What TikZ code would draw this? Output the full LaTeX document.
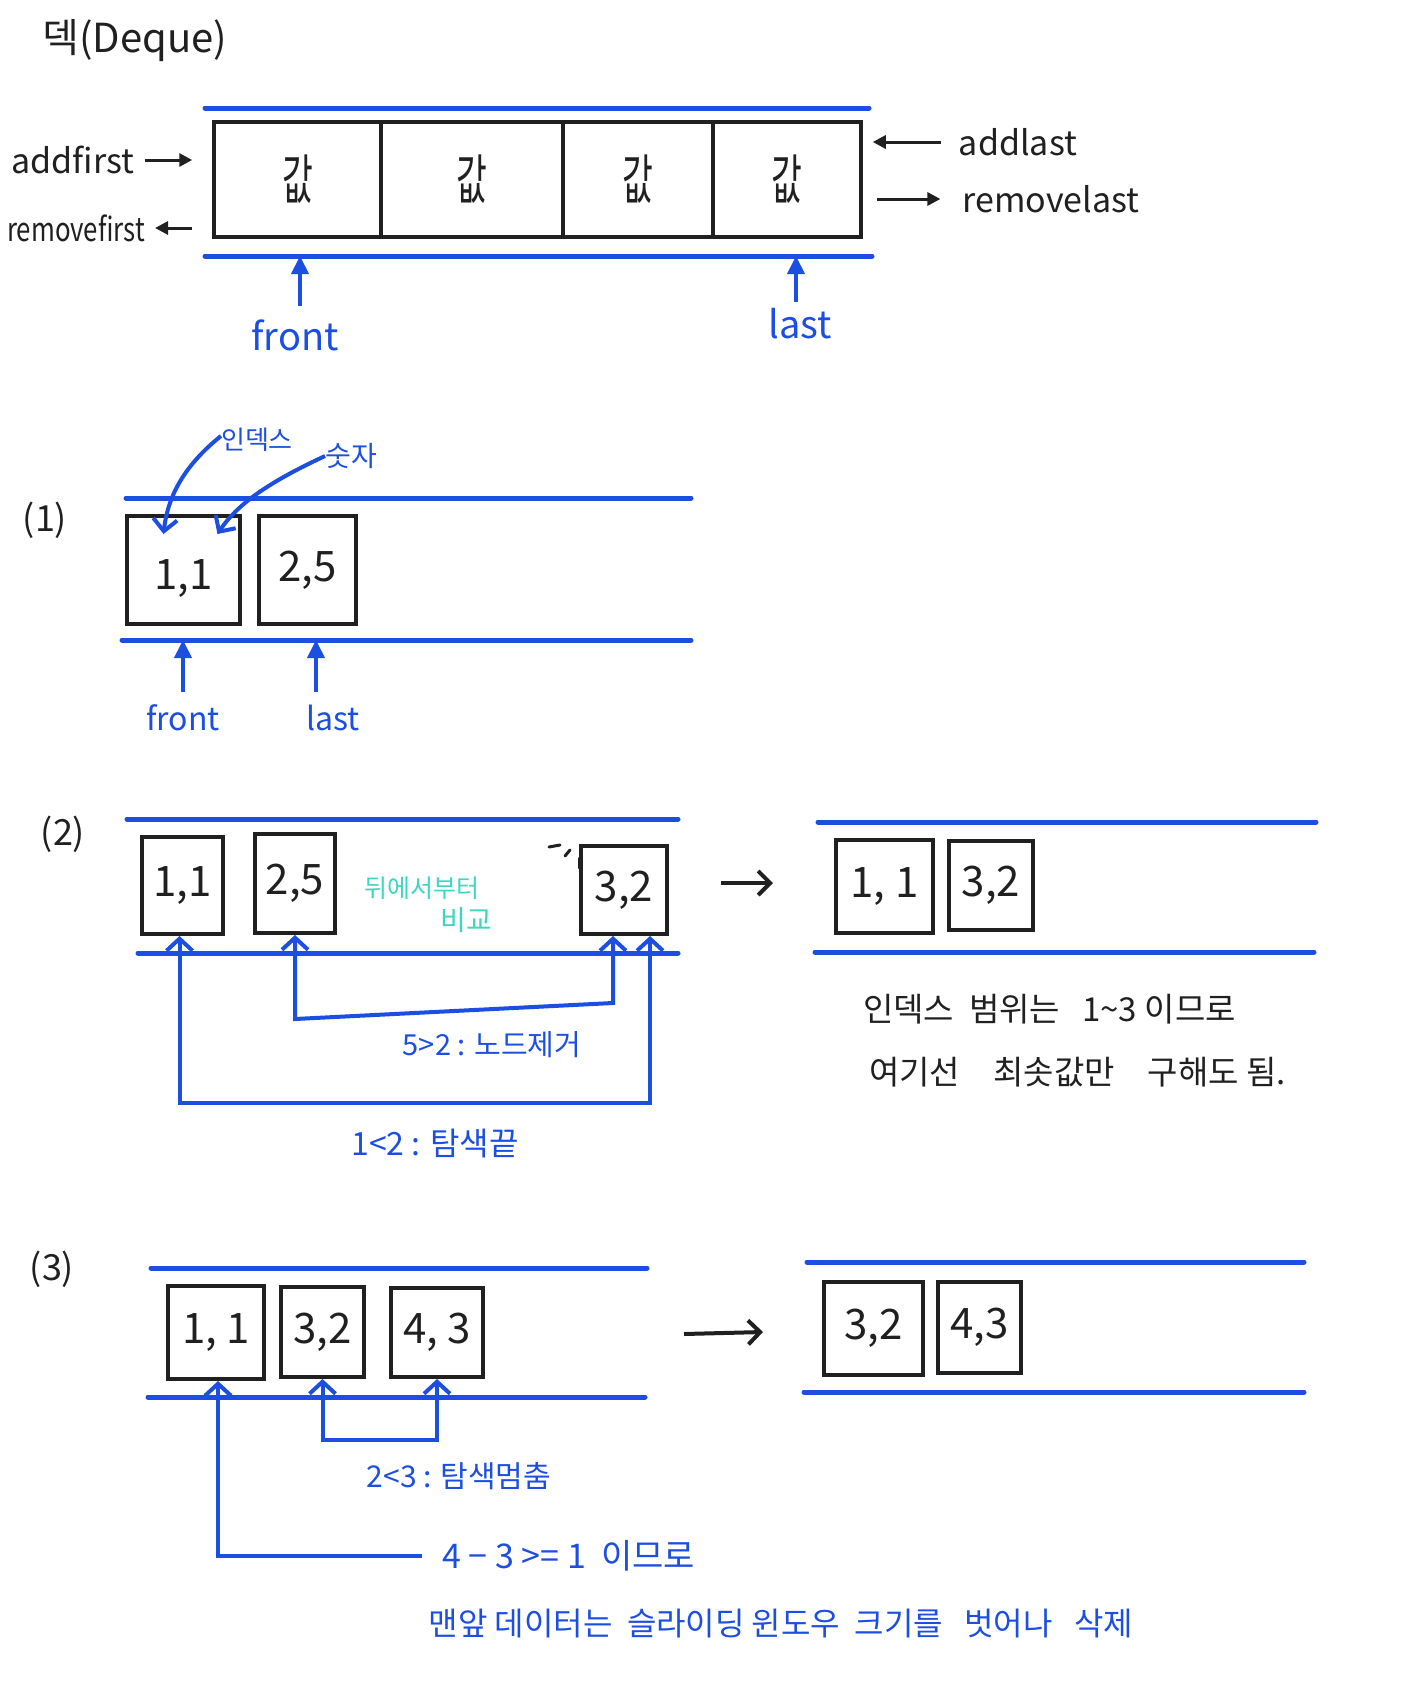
\documentclass[tikz,border=0pt]{standalone}
\usepackage{fontspec}
\newfontfamily\kr{Noto Sans CJK KR}
\usetikzlibrary{arrows.meta,calc}
\definecolor{pen}{RGB}{28,78,226}
\definecolor{ink}{RGB}{32,32,32}
\definecolor{mint}{RGB}{62,214,190}
\newcommand\myfs[1]{\kr\fontsize{#1}{#1}\selectfont}
\begin{document}
\begin{tikzpicture}[x=1pt,y=-1pt,
  txt/.style={inner sep=0pt, font=\myfs{#1}},
  blueline/.style={draw=pen, line width=5pt, line cap=round},
  cellbox/.style={draw=ink, line width=3.5pt, inner sep=0pt, text=ink},
  databox/.style={draw=ink, line width=4pt, inner sep=0pt, text=ink, font=\myfs{42}},
  arrK/.style={draw=ink, line width=3pt, -{Triangle[length=13pt,width=13pt]}},
  arrB/.style={draw=pen, line width=4pt, -{Triangle[length=18pt,width=17pt]}},
  barbS/.style={draw=pen, line width=4pt, {Straight Barb[length=12pt,width=26pt]}-},
  barbE/.style={draw=pen, line width=4pt, -{Straight Barb[length=12pt,width=24pt]}},
  barbD/.style={draw=pen, line width=4pt, {Straight Barb[length=12pt,width=26pt]}-{Straight Barb[length=12pt,width=26pt]}},
  arrN/.style={draw=ink, line width=4pt, -{Straight Barb[length=12pt,width=24pt]}},
]
\fill[white] (0,0) rectangle (1406,1692);
\useasboundingbox (0,0) rectangle (1406,1692);

% ---------- Title ----------
\node[txt=40, text=ink] (title) at (135,41) {덱(Deque)};

% ---------- Deque overview ----------
\coordinate (t0a) at (205,108); \coordinate (t0b) at (869,108);
\coordinate (b0a) at (205,256); \coordinate (b0b) at (872,256);
\draw[blueline] (t0a) -- (t0b);
\draw[blueline] (b0a) -- (b0b);

\node[cellbox, minimum width=167pt, minimum height=115pt, font=\myfs{54}] (c1) at (297.5,179.5) {\scalebox{0.62}[1]{값}};
\node[cellbox, minimum width=182pt, minimum height=115pt, font=\myfs{54}] (c2) at (472,179.5) {\scalebox{0.62}[1]{값}};
\node[cellbox, minimum width=150pt, minimum height=115pt, font=\myfs{54}] (c3) at (638,179.5) {\scalebox{0.62}[1]{값}};
\node[cellbox, minimum width=148pt, minimum height=115pt, font=\myfs{54}] (c4) at (787,179.5) {\scalebox{0.62}[1]{값}};

\node[txt=34, text=ink] (af) at (73,160) {addfirst};
\node[txt=30, text=ink] (rf) at (76,228) {\scalebox{0.86}[1.1]{removefirst}};
\node[txt=34, text=ink] (al) at (1018,142) {addlast};
\node[txt=34, text=ink] (rl) at (1051,199) {removelast};

\draw[arrK, shorten <=10pt, shorten >=20pt] (af.east) -- (c1.west |- af.east);
\draw[arrK, shorten <=20pt, shorten >=10pt] (c1.west |- rf.east) -- (rf.east);
\draw[arrK, shorten <=18pt, shorten >=10pt] (al.west) -- (c4.east |- al.west);
\draw[arrK, shorten <=14pt, shorten >=22pt] (c4.east |- rl.west) -- (rl.west);

\node[txt=38, text=pen] (fr0) at (295,335) {front};
\node[txt=38, text=pen] (la0) at (800,324) {last};
\draw[arrB] ([xshift=5pt]fr0.north |- 0,306) -- ([xshift=5pt]fr0.north |- b0a);
\draw[arrB] ([xshift=-4pt]la0.north |- 0,302) -- ([xshift=-4pt]la0.north |- b0a);

% ---------- (1) ----------
\node[txt=36, text=ink] (s1) at (45,520) {(1)};
\coordinate (t1a) at (126,498); \coordinate (t1b) at (691,498);
\coordinate (b1a) at (122,640); \coordinate (b1b) at (691,640);
\draw[blueline] (t1a) -- (t1b);
\draw[blueline] (b1a) -- (b1b);
\node[databox, minimum width=113pt, minimum height=108pt, text depth=0pt] (p11) at (183.5,570) {\raisebox{-10pt}{1,1}};
\node[databox, minimum width=97pt, minimum height=108pt] (p12) at (307.5,570) {2,5};

\node[txt=26, text=pen] (idx) at (257,440) {인덱스};
\node[txt=28, text=pen] (num) at (351,456) {숫자};
\draw[barbE] ([yshift=4pt]idx.west) .. controls (185,465) and (168,495) .. ([xshift=-20pt,yshift=36pt]p11.center);
\draw[barbE] (num.west) .. controls (278,478) and (240,500) .. ([xshift=34pt,yshift=36pt]p11.center);

\node[txt=32, text=pen] (fr1) at (183,718) {front};
\node[txt=32, text=pen] (la1) at (333,718) {last};
\draw[arrB] (fr1.north |- 0,692) -- (fr1.north |- b1a);
\draw[arrB] ([xshift=-17pt]la1.north |- 0,692) -- ([xshift=-17pt]la1.north |- b1a);

% ---------- (2) ----------
\node[txt=36, text=ink] (s2) at (63,834) {(2)};
\coordinate (t2a) at (127,819); \coordinate (t2b) at (678,819);
\coordinate (b2a) at (138,953); \coordinate (b2b) at (678,953);
\draw[blueline] (t2a) -- (t2b);
\draw[blueline] (b2a) -- (b2b);
\node[databox, minimum width=81pt, minimum height=97pt] (d1) at (182.5,885.5) {1,1};
\node[databox, minimum width=80pt, minimum height=99pt] (d2) at (295,883.5) {2,5};
\node[databox, minimum width=86pt, minimum height=88pt] (d3) at (624,890) {3,2};
\draw[ink, line width=3pt, line cap=round] ([xshift=-30pt,yshift=-3pt]d3.north west) -- ([xshift=-19pt,yshift=-1pt]d3.north west);
\draw[ink, line width=3pt, line cap=round] ([xshift=-14pt,yshift=-12pt]d3.north west) -- ([xshift=-9pt,yshift=-6pt]d3.north west);
\draw[ink, line width=3pt, line cap=round] ([xshift=0pt,yshift=-24pt]d3.north west) -- ([xshift=0pt,yshift=-14pt]d3.north west);

\node[txt=25, text=mint] (cmp1) at (422,888) {뒤에서부터};
\node[txt=28, text=mint] (cmp2) at (466,920) {비교};

\coordinate (a1) at ([xshift=-3pt]d1.south);
\coordinate (a2) at ([xshift=26pt]d3.south);
\coordinate (a4) at ([xshift=-11pt]d3.south);
\coordinate (y1) at (0,1103);
\coordinate (y2) at (0,1019);
\coordinate (y3) at (0,1003);
\draw[barbD] (a1) -- (a1 |- y1) -- (a2 |- y1) -- (a2);
\draw[barbD] (d2.south) -- (d2.south |- y2) -- (a4 |- y3) -- (a4);

\node[txt=29, text=pen] (lab1) at (492,1045) {5>2 : 노드제거};
\node[txt=32, text=pen] (lab2) at (435,1144) {1<2 : 탐색끝};

\coordinate (ar1a) at (721,883); \coordinate (ar1b) at (773,883);
\draw[arrN] (ar1a) -- (ar1b);

\coordinate (t2c) at (818,822); \coordinate (t2d) at (1316,822);
\coordinate (b2c) at (815,952); \coordinate (b2d) at (1314,952);
\draw[blueline] (t2c) -- (t2d);
\draw[blueline] (b2c) -- (b2d);
\node[databox, minimum width=97pt, minimum height=93pt] (e1) at (884.5,886.5) {1, 1};
\node[databox, minimum width=84pt, minimum height=89pt] (e2) at (991,885.5) {3,2};

\node[txt=33, text=ink, anchor=west] (note1) at (863,1009) {인덱스 \ 범위는 \ \ 1\char"7E 3 이므로};
\node[txt=33, text=ink, anchor=west] (note2) at (869,1072) {여기선\quad 최솟값만\quad 구해도\ 됨.};

% ---------- (3) ----------
\node[txt=36, text=ink] (s3) at (52,1269) {(3)};
\coordinate (t3a) at (151,1268); \coordinate (t3b) at (647,1268);
\coordinate (b3a) at (148,1397); \coordinate (b3b) at (645,1397);
\draw[blueline] (t3a) -- (t3b);
\draw[blueline] (b3a) -- (b3b);
\node[databox, minimum width=96pt, minimum height=93pt] (f1) at (216,1332.5) {1, 1};
\node[databox, minimum width=83pt, minimum height=90pt] (f2) at (322.5,1332) {3,2};
\node[databox, minimum width=92pt, minimum height=89pt] (f3) at (437,1332.5) {4, 3};

\node[txt=30, text=pen] (lab3) at (459,1476) {2<3 : 탐색멈춤};
\coordinate (y4) at (0,1440);
\draw[barbD] (f2.south) -- (f2.south |- y4) -- (f3.south |- y4) -- (f3.south);

\node[txt=34, text=pen, anchor=west] (lab4) at (442,1556) {4 − 3 >= 1 \ 이므로};
\draw[barbS, shorten >=20pt] ([xshift=2pt]f1.south) -- ([xshift=2pt]f1.south |- lab4.west) -- (lab4.west);
\node[txt=32, text=pen] (lab5) at (781,1624) {맨앞 데이터는 \ 슬라이딩 윈도우 \ 크기를 \ \ 벗어나 \ \ 삭제};

\coordinate (ar2a) at (684,1334); \coordinate (ar2b) at (763,1332);
\draw[arrN] (ar2a) -- (ar2b);

\coordinate (t3c) at (807,1262); \coordinate (t3d) at (1304,1262);
\coordinate (b3c) at (804,1392); \coordinate (b3d) at (1304,1392);
\draw[blueline] (t3c) -- (t3d);
\draw[blueline] (b3c) -- (b3d);
\node[databox, minimum width=99pt, minimum height=93pt] (g1) at (873.5,1328.5) {3,2};
\node[databox, minimum width=83pt, minimum height=91pt] (g2) at (979.5,1327.5) {4,3};
\end{tikzpicture}
\end{document}
